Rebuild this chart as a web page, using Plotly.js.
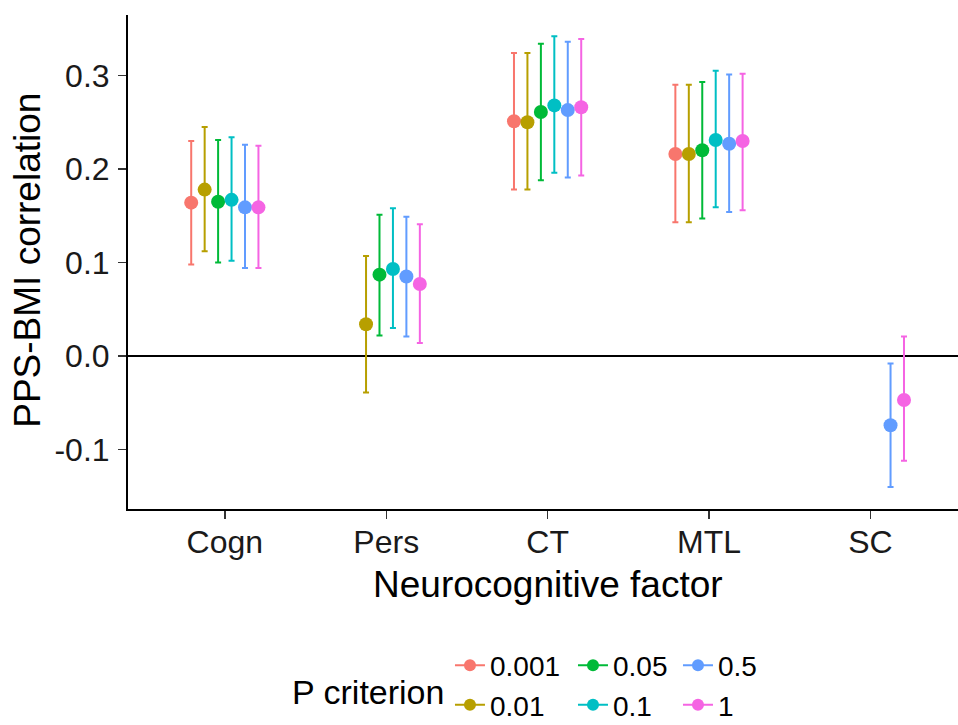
<!DOCTYPE html>
<html>
<head>
<meta charset="utf-8">
<script src="https://cdn.plot.ly/plotly-3.0.1.min.js"></script>
<style>
  html, body { margin: 0; padding: 0; background: #ffffff; }
  #chart { width: 958px; height: 725px; }
</style>
</head>
<body>
<div id="chart"></div>
<script>
// Neurocognitive factors on the x axis
const categories = ['Cogn', 'Pers', 'CT', 'MTL', 'SC'];

// P-value thresholds used to build the polygenic score
const criteria = ['0.001', '0.01', '0.05', '0.1', '0.5', '1'];
const colors = ['#F8766D', '#B79F00', '#00BA38', '#00BFC4', '#619CFF', '#F564E3'];

// Correlation estimates (null = not estimated)
const est_0001 = [0.164, null, 0.251, 0.216, null];
const est_001  = [0.178, 0.034, 0.250, 0.216, null];
const est_005  = [0.165, 0.087, 0.261, 0.220, null];
const est_01   = [0.167, 0.093, 0.268, 0.231, null];
const est_05   = [0.159, 0.085, 0.263, 0.227, -0.074];
const est_1    = [0.159, 0.077, 0.266, 0.230, -0.047];

// Lower confidence limits
const lo_0001 = [0.098, null, 0.178, 0.143, null];
const lo_001  = [0.112, -0.039, 0.178, 0.143, null];
const lo_005  = [0.100, 0.022, 0.188, 0.147, null];
const lo_01   = [0.102, 0.030, 0.196, 0.159, null];
const lo_05   = [0.094, 0.021, 0.191, 0.154, -0.140];
const lo_1    = [0.094, 0.014, 0.193, 0.156, -0.112];

// Upper confidence limits
const hi_0001 = [0.230, null, 0.324, 0.290, null];
const hi_001  = [0.245, 0.107, 0.324, 0.290, null];
const hi_005  = [0.231, 0.151, 0.334, 0.293, null];
const hi_01   = [0.234, 0.158, 0.342, 0.305, null];
const hi_05   = [0.226, 0.149, 0.336, 0.301, -0.008];
const hi_1    = [0.225, 0.141, 0.339, 0.302, 0.021];

// y-axis ticks
const yTickVals = [-0.1, 0.0, 0.1, 0.2, 0.3];
const yTickText = ['-0.1', '0.0', '0.1', '0.2', '0.3'];

const estimates = [est_0001, est_001, est_005, est_01, est_05, est_1];
const lowers = [lo_0001, lo_001, lo_005, lo_01, lo_05, lo_1];
const uppers = [hi_0001, hi_001, hi_005, hi_01, hi_05, hi_1];

const FONT = '"Liberation Sans", Arial, Helvetica, sans-serif';

const traces = [];

// Point estimates with confidence intervals, dodged within each factor
criteria.forEach((crit, i) => {
  const est = estimates[i];
  traces.push({
    type: 'scatter',
    mode: 'markers',
    name: crit,
    x: categories,
    y: est,
    showlegend: false,
    hoverinfo: 'x+y+name',
    marker: { color: colors[i], size: 14, line: { width: 0 } },
    error_y: {
      type: 'data',
      symmetric: false,
      array: est.map((v, k) => v === null ? null : uppers[i][k] - v),
      arrayminus: est.map((v, k) => v === null ? null : v - lowers[i][k]),
      color: colors[i],
      thickness: 2,
      width: 3
    }
  });
});

// Legend keys (line + point), laid out in three columns of two
const legendFor = ['legend', 'legend', 'legend2', 'legend2', 'legend3', 'legend3'];
criteria.forEach((crit, i) => {
  traces.push({
    type: 'scatter',
    mode: 'lines+markers',
    name: crit,
    x: [null],
    y: [null],
    xaxis: 'x2',
    yaxis: 'y2',
    legend: legendFor[i],
    hoverinfo: 'skip',
    line: { color: colors[i], width: 2 },
    marker: { color: colors[i], size: 12 }
  });
});

const legendBase = {
  orientation: 'v',
  xref: 'container',
  yref: 'container',
  xanchor: 'left',
  yanchor: 'top',
  y: 0.1165,
  font: { family: FONT, size: 28, color: '#000000' },
  bgcolor: 'rgba(0,0,0,0)',
  borderwidth: 0,
  tracegroupgap: 0,
  itemwidth: 30,
  itemclick: false,
  itemdoubleclick: false
};

const layout = {
  width: 958,
  height: 725,
  margin: { l: 128, r: 0, t: 15, b: 216, autoexpand: false },
  paper_bgcolor: '#ffffff',
  plot_bgcolor: '#ffffff',
  font: { family: FONT, color: '#000000' },
  scattermode: 'group',
  scattergap: 0.5,
  xaxis: {
    type: 'category',
    categoryorder: 'array',
    categoryarray: categories,
    range: [-0.6, 4.543],
    automargin: false,
    showline: true,
    linecolor: '#000000',
    linewidth: 2,
    showgrid: false,
    zeroline: false,
    ticks: 'outside',
    ticklen: 8,
    tickwidth: 1.4,
    tickcolor: '#333333',
    ticklabelstandoff: -4,
    tickfont: { family: FONT, size: 32, color: '#1a1a1a' },
    fixedrange: true
  },
  yaxis: {
    range: [-0.1636, 0.3647],
    tickvals: yTickVals,
    ticktext: yTickText,
    automargin: false,
    showline: true,
    linecolor: '#000000',
    linewidth: 2,
    showgrid: false,
    zeroline: true,
    zerolinecolor: '#000000',
    zerolinewidth: 2,
    ticks: 'outside',
    ticklen: 8,
    tickwidth: 1.4,
    tickcolor: '#333333',
    ticklabelstandoff: 2,
    tickfont: { family: FONT, size: 32, color: '#1a1a1a' },
    fixedrange: true
  },
  xaxis2: { overlaying: 'x', visible: false, fixedrange: true },
  yaxis2: { overlaying: 'y', visible: false, fixedrange: true },
  legend:  Object.assign({}, legendBase, { x: 0.4697 }),
  legend2: Object.assign({}, legendBase, { x: 0.5981 }),
  legend3: Object.assign({}, legendBase, { x: 0.7077 }),
  annotations: [
    {
      text: 'Neurocognitive factor',
      xref: 'paper', yref: 'paper',
      x: 0.506, y: -0.1538,
      xanchor: 'center', yanchor: 'middle',
      showarrow: false,
      font: { family: FONT, size: 37, color: '#000000' }
    },
    {
      text: 'PPS-BMI correlation',
      xref: 'paper', yref: 'paper',
      x: -0.122, y: 0.504,
      xanchor: 'center', yanchor: 'middle',
      textangle: -90,
      showarrow: false,
      font: { family: FONT, size: 37, color: '#000000' }
    },
    {
      text: 'P criterion',
      xref: 'paper', yref: 'paper',
      x: 0.289, y: -0.3704,
      xanchor: 'center', yanchor: 'middle',
      showarrow: false,
      font: { family: FONT, size: 34, color: '#000000' }
    }
  ]
};

Plotly.newPlot('chart', traces, layout, { displayModeBar: false, staticPlot: true });
</script>
</body>
</html>
